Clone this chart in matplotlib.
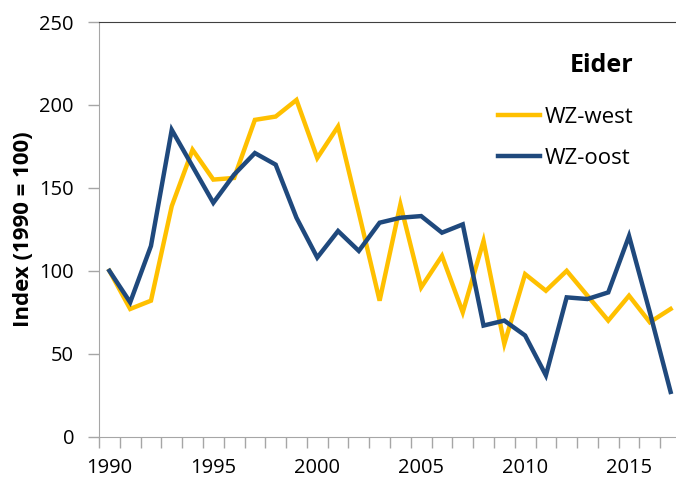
import numpy as np
import matplotlib
matplotlib.use("Agg")
import matplotlib.pyplot as plt

plt.rcParams['font.family'] = ['Open Sans', 'DejaVu Sans']

years = np.arange(1990, 2018)
wz_west = [100, 77, 82, 139, 173, 155, 156, 191, 193, 203,
           168, 187, 135, 82, 140, 90, 109, 75, 118, 56,
           98, 88, 100, 85, 70, 85, 69, 77]
wz_oost = [100, 81, 115, 185, 163, 141, 158, 171, 164, 132,
           108, 124, 112, 129, 132, 133, 123, 128, 67, 70,
           61, 37, 84, 83, 87, 121, 75, 27]
year_labels = [1990, 1995, 2000, 2005, 2010, 2015]

W, H = 676, 478
fig = plt.figure(figsize=(W / 100, H / 100), dpi=100)
ax = fig.add_axes([99 / W, 41.3 / H, 582 / W, 414.7 / H])

ax.plot(years, wz_west, color='#FFC000', lw=3.2, label='WZ-west', solid_joinstyle='miter')
ax.plot(years, wz_oost, color='#1F497D', lw=3.2, label='WZ-oost', solid_joinstyle='miter')

ax.set_xlim(1989.5, 2017.5)
ax.set_ylim(0, 250)

gray = '#A6A6A6'
ax.set_yticks(np.arange(0, 251, 50))
ax.set_xticks(year_labels)
ax.set_xticks(np.arange(1989.5, 2018, 1), minor=True)
ax.tick_params(axis='x', which='major', length=0, pad=15, labelsize=14.5, colors='black')
ax.tick_params(axis='x', which='minor', length=8, width=1, color=gray)
ax.tick_params(axis='y', length=8, width=1, color=gray, pad=10, labelsize=14.5)

ax.spines['left'].set_color(gray)
ax.spines['bottom'].set_color(gray)
ax.spines['right'].set_visible(False)
ax.spines['top'].set_color('#404040')

ax.set_ylabel('Index (1990 = 100)', fontsize=16, fontweight='bold', labelpad=4)

fig.text(602 / W, 1 - 65 / H, 'Eider', fontsize=18, fontweight='bold',
         ha='center', va='center')

leg = ax.legend(loc='upper left', bbox_to_anchor=(498 / W, 1 - 107 / H),
                bbox_transform=fig.transFigure, frameon=False, fontsize=16,
                handlelength=1.9, handletextpad=0.2, labelspacing=0.9,
                borderpad=0, borderaxespad=0)

fig.savefig('out.png', dpi=100)
